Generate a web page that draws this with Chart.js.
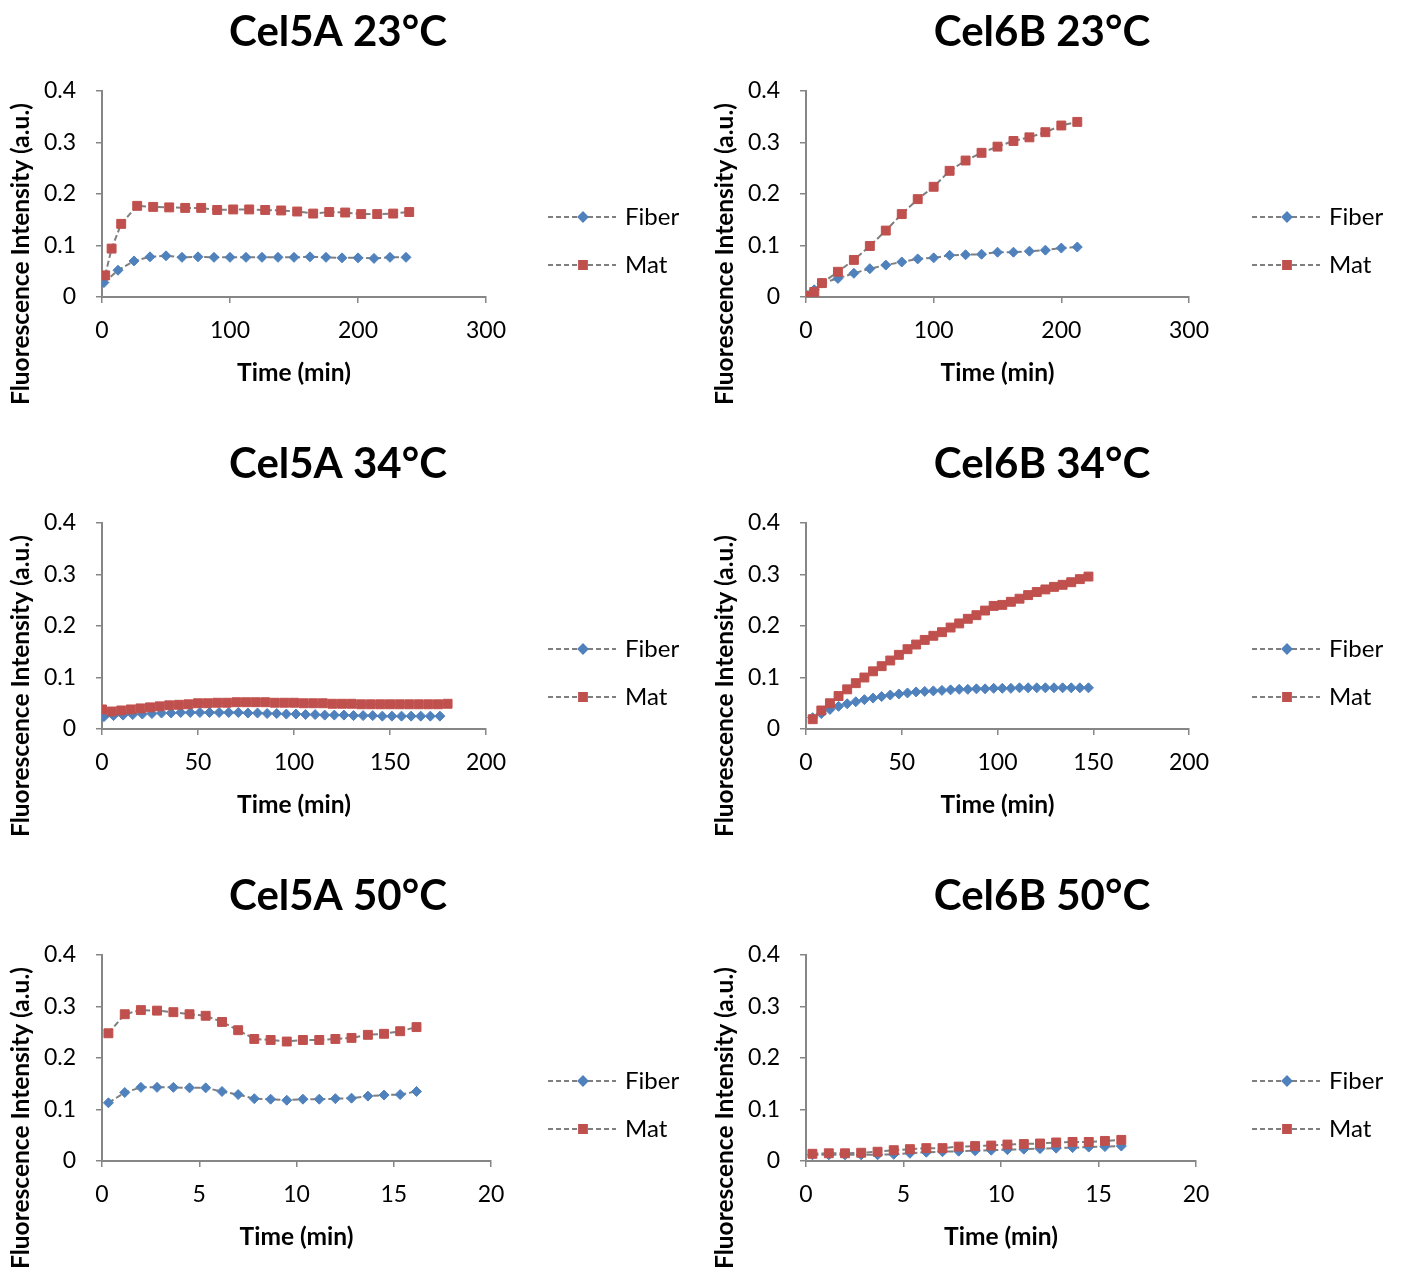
<!DOCTYPE html>
<html>
<head>
<meta charset="utf-8">
<script src="https://cdn.jsdelivr.net/npm/chart.js@4.4.1/dist/chart.umd.min.js"></script>
<style>
  html, body { margin: 0; padding: 0; background: #fff; overflow: hidden; }
  #wrap { position: relative; width: 1403px; height: 1276px; }
  canvas { position: absolute; }
</style>
</head>
<body>
<div id="wrap">
  <canvas id="c1" width="699" height="432" style="left:0;top:0"></canvas>
  <canvas id="c2" width="699" height="432" style="left:704px;top:0"></canvas>
  <canvas id="c3" width="699" height="432" style="left:0;top:432px"></canvas>
  <canvas id="c4" width="699" height="432" style="left:704px;top:432px"></canvas>
  <canvas id="c5" width="699" height="432" style="left:0;top:864px"></canvas>
  <canvas id="c6" width="699" height="432" style="left:704px;top:864px"></canvas>
</div>
<script>
// Cel5A 23°C
const cel5a23FiberTime = [1.5, 12.5, 25, 37.5, 50, 62.5, 75, 87.5, 100, 112.5, 125, 137.5, 150, 162.5, 175, 187.5, 200, 212.5, 225, 237.5];
const cel5a23Fiber = [0.028, 0.052, 0.070, 0.078, 0.080, 0.077, 0.078, 0.077, 0.077, 0.077, 0.077, 0.077, 0.077, 0.078, 0.077, 0.076, 0.076, 0.075, 0.077, 0.077];
const cel5a23MatTime = [2.5, 7.5, 15, 27.5, 40, 52.5, 65, 77.5, 90, 102.5, 115, 127.5, 140, 152.5, 165, 177.5, 190, 202.5, 215, 227.5, 240];
const cel5a23Mat = [0.042, 0.094, 0.142, 0.177, 0.175, 0.174, 0.173, 0.173, 0.169, 0.170, 0.170, 0.169, 0.168, 0.166, 0.162, 0.165, 0.164, 0.161, 0.161, 0.162, 0.165];

// Cel6B 23°C
const cel6b23Time = [1.5, 6.5, 12.5, 25, 37.5, 50, 62.5, 75, 87.5, 100, 112.5, 125, 137.5, 150, 162.5, 175, 187.5, 200, 212.5];
const cel6b23Fiber = [0.003, 0.014, 0.027, 0.036, 0.046, 0.055, 0.062, 0.068, 0.074, 0.076, 0.081, 0.082, 0.083, 0.087, 0.087, 0.089, 0.091, 0.095, 0.097];
const cel6b23Mat = [0.002, 0.010, 0.027, 0.049, 0.072, 0.099, 0.129, 0.161, 0.190, 0.214, 0.245, 0.265, 0.280, 0.292, 0.303, 0.310, 0.320, 0.333, 0.340];

// Cel5A 34°C
const cel5a34FiberTime = [1, 6, 11, 16, 21, 26, 31, 36, 41, 46, 51, 56, 61, 66, 71, 76, 81, 86, 91, 96, 101, 106, 111, 116, 121, 126, 131, 136, 141, 146, 151, 156, 161, 166, 171, 176];
const cel5a34Fiber = [0.024, 0.026, 0.027, 0.028, 0.029, 0.030, 0.031, 0.031, 0.032, 0.032, 0.032, 0.032, 0.032, 0.032, 0.032, 0.031, 0.031, 0.030, 0.030, 0.029, 0.029, 0.028, 0.028, 0.027, 0.027, 0.027, 0.026, 0.026, 0.026, 0.025, 0.025, 0.025, 0.025, 0.025, 0.025, 0.025];
const cel5a34MatTime = [0, 5, 10, 15, 20, 25, 30, 35, 40, 45, 50, 55, 60, 65, 70, 75, 80, 85, 90, 95, 100, 105, 110, 115, 120, 125, 130, 135, 140, 145, 150, 155, 160, 165, 170, 175, 180];
const cel5a34Mat = [0.038, 0.034, 0.036, 0.038, 0.040, 0.042, 0.044, 0.046, 0.047, 0.048, 0.050, 0.050, 0.051, 0.051, 0.052, 0.052, 0.052, 0.052, 0.051, 0.051, 0.051, 0.050, 0.050, 0.050, 0.049, 0.049, 0.049, 0.048, 0.048, 0.048, 0.048, 0.048, 0.048, 0.048, 0.048, 0.048, 0.049];

// Cel6B 34°C
const cel6b34Time = [3.5, 8, 12.5, 17, 21.5, 26, 30.5, 35, 39.5, 44, 48.5, 53, 57.5, 62, 66.5, 71, 75.5, 80, 84.5, 89, 93.5, 98, 102.5, 107, 111.5, 116, 120.5, 125, 129.5, 134, 138.5, 143, 147.5];
const cel6b34Fiber = [0.022, 0.030, 0.038, 0.044, 0.049, 0.053, 0.057, 0.060, 0.063, 0.066, 0.068, 0.070, 0.072, 0.073, 0.074, 0.075, 0.076, 0.077, 0.077, 0.078, 0.078, 0.079, 0.079, 0.079, 0.080, 0.080, 0.080, 0.080, 0.080, 0.080, 0.080, 0.080, 0.080];
const cel6b34Mat = [0.019, 0.036, 0.050, 0.064, 0.077, 0.089, 0.100, 0.112, 0.122, 0.133, 0.144, 0.155, 0.164, 0.173, 0.181, 0.188, 0.197, 0.205, 0.214, 0.221, 0.230, 0.239, 0.241, 0.247, 0.253, 0.260, 0.266, 0.271, 0.276, 0.280, 0.285, 0.291, 0.296];

// 50°C runs (same sampling)
const time50 = [0.33, 1.17, 2.0, 2.83, 3.67, 4.5, 5.33, 6.17, 7.0, 7.83, 8.67, 9.5, 10.33, 11.17, 12.0, 12.83, 13.67, 14.5, 15.33, 16.17];
const cel5a50Fiber = [0.113, 0.133, 0.143, 0.143, 0.143, 0.142, 0.142, 0.135, 0.129, 0.121, 0.120, 0.118, 0.120, 0.120, 0.121, 0.122, 0.126, 0.128, 0.129, 0.135];
const cel5a50Mat = [0.248, 0.285, 0.293, 0.292, 0.289, 0.285, 0.282, 0.270, 0.254, 0.237, 0.235, 0.232, 0.235, 0.235, 0.237, 0.239, 0.245, 0.247, 0.252, 0.260];
const cel6b50Fiber = [0.012, 0.012, 0.012, 0.012, 0.012, 0.013, 0.015, 0.017, 0.018, 0.019, 0.020, 0.021, 0.022, 0.023, 0.024, 0.025, 0.026, 0.027, 0.028, 0.029];
const cel6b50Mat = [0.014, 0.015, 0.015, 0.016, 0.018, 0.021, 0.023, 0.025, 0.025, 0.028, 0.029, 0.030, 0.032, 0.033, 0.034, 0.036, 0.037, 0.037, 0.039, 0.041];

const yTicks = [0, 0.1, 0.2, 0.3, 0.4];
const FONT = 'Lato, Calibri, sans-serif';
const AXIS_GRAY = '#868686';
const TICK_SIZE = 23;

// titres, légende et titres d'axes dessinés à la manière d'Excel
const excelDecor = {
    id: 'excelDecor',
    afterDraw(chart, args, opts) {
        const ctx = chart.ctx;
        const area = chart.chartArea;
        ctx.save();
        ctx.fillStyle = '#000';

        ctx.font = 'bold 42px ' + FONT;
        ctx.textAlign = 'center';
        ctx.textBaseline = 'alphabetic';
        ctx.fillText(opts.title, 338, 46);

        ctx.font = 'bold 24.5px ' + FONT;
        ctx.fillText('Time (min)', (area.left + area.right) / 2, 381);

        ctx.save();
        ctx.translate(29, 254);
        ctx.rotate(-Math.PI / 2);
        ctx.fillText('Fluorescence Intensity (a.u.)', 0, 0);
        ctx.restore();

        // légende à droite
        chart.data.datasets.forEach((ds, i) => {
            const y = 217 + 48 * i;
            ctx.strokeStyle = ds.borderColor;
            ctx.lineWidth = 2;
            ctx.setLineDash([5, 3]);
            ctx.beginPath();
            ctx.moveTo(548, y);
            ctx.lineTo(616, y);
            ctx.stroke();
            ctx.setLineDash([]);
            ctx.fillStyle = ds.pointBackgroundColor;
            ctx.strokeStyle = ds.pointBorderColor;
            Chart.helpers.drawPoint(ctx, {
                pointStyle: ds.pointStyle,
                radius: ds.pointStyle === 'rect' ? 5.5 : 4.5,
                rotation: 0,
                borderWidth: 1
            }, 583, y);
            ctx.fillStyle = '#000';
            ctx.font = '24px ' + FONT;
            ctx.textAlign = 'left';
            ctx.textBaseline = 'middle';
            ctx.fillText(ds.label, 625, y);
        });
        ctx.restore();
    }
};

function toPoints(times, values) {
    return times.map((t, i) => ({ x: t, y: values[i] }));
}

function fiberDataset(times, values) {
    return {
        label: 'Fiber',
        data: toPoints(times, values),
        borderColor: '#7f7f7f',
        borderWidth: 2,
        borderDash: [6, 3],
        pointStyle: 'rectRot',
        pointRadius: 5,
        pointBackgroundColor: '#4f81bd',
        pointBorderColor: '#4f81bd',
        pointBorderWidth: 1,
        showLine: true,
        order: 1
    };
}

function matDataset(times, values) {
    return {
        label: 'Mat',
        data: toPoints(times, values),
        borderColor: '#7f7f7f',
        borderWidth: 2,
        borderDash: [6, 3],
        pointStyle: 'rect',
        pointRadius: 6.3,
        pointBackgroundColor: '#c0504d',
        pointBorderColor: '#c0504d',
        pointBorderWidth: 1,
        showLine: true,
        order: 0
    };
}

function axisBase(extra) {
    return Object.assign({
        type: 'linear',
        grid: { drawOnChartArea: false, drawTicks: true, tickLength: 6, color: AXIS_GRAY, lineWidth: 1.5 },
        border: { display: true, color: AXIS_GRAY, width: 2 }
    }, extra);
}

function renderChart(id, title, xMax, xStep, plotRight, datasets) {
    const canvas = document.getElementById(id);
    new Chart(canvas.getContext('2d'), {
        type: 'scatter',
        data: { datasets: datasets },
        options: {
            responsive: false,
            animation: false,
            events: [],
            layout: { padding: { top: 91, left: 0, bottom: 0, right: canvas.width - plotRight } },
            plugins: {
                legend: { display: false },
                tooltip: { enabled: false },
                excelDecor: { title: title }
            },
            scales: {
                x: axisBase({
                    min: 0, max: xMax,
                    ticks: { stepSize: xStep, color: '#000', font: { family: FONT, size: TICK_SIZE }, padding: 14, maxRotation: 0 },
                    afterFit: (scale) => { scale.height = 135; }
                }),
                y: axisBase({
                    min: 0, max: 0.4,
                    afterBuildTicks: (scale) => { scale.ticks = yTicks.map(v => ({ value: v })); },
                    ticks: { color: '#000', font: { family: FONT, size: TICK_SIZE }, padding: 20 },
                    afterFit: (scale) => { scale.width = 102; }
                })
            }
        },
        plugins: [excelDecor]
    });
}

renderChart('c1', 'Cel5A 23°C', 300, 100, 486, [
    fiberDataset(cel5a23FiberTime, cel5a23Fiber),
    matDataset(cel5a23MatTime, cel5a23Mat)
]);
renderChart('c2', 'Cel6B 23°C', 300, 100, 485, [
    fiberDataset(cel6b23Time, cel6b23Fiber),
    matDataset(cel6b23Time, cel6b23Mat)
]);
renderChart('c3', 'Cel5A 34°C', 200, 50, 486, [
    fiberDataset(cel5a34FiberTime, cel5a34Fiber),
    matDataset(cel5a34MatTime, cel5a34Mat)
]);
renderChart('c4', 'Cel6B 34°C', 200, 50, 485, [
    fiberDataset(cel6b34Time, cel6b34Fiber),
    matDataset(cel6b34Time, cel6b34Mat)
]);
renderChart('c5', 'Cel5A 50°C', 20, 5, 491, [
    fiberDataset(time50, cel5a50Fiber),
    matDataset(time50, cel5a50Mat)
]);
renderChart('c6', 'Cel6B 50°C', 20, 5, 492, [
    fiberDataset(time50, cel6b50Fiber),
    matDataset(time50, cel6b50Mat)
]);
</script>
</body>
</html>
